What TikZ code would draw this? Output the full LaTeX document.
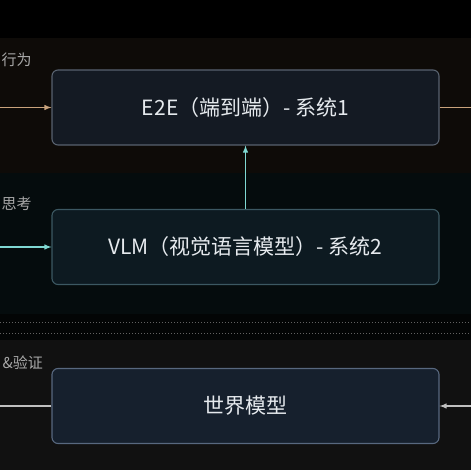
\documentclass[tikz,border=0pt]{standalone}
\usepackage{fontspec}
\setmainfont{Noto Sans CJK SC}
\usetikzlibrary{positioning}

\definecolor{bandtop}{HTML}{0E0B08}
\definecolor{bandmid}{HTML}{050C0D}
\definecolor{bandgap}{HTML}{030505}
\definecolor{bandlow}{HTML}{111111}
\definecolor{e2efill}{HTML}{141A23}
\definecolor{e2eline}{HTML}{58626F}
\definecolor{vlmfill}{HTML}{0D1A21}
\definecolor{vlmline}{HTML}{3C5862}
\definecolor{wmfill}{HTML}{16202D}
\definecolor{wmline}{HTML}{58687F}
\definecolor{boxtext}{HTML}{E6EAEE}
\definecolor{tagtext}{HTML}{A8A8A8}
\definecolor{orangeline}{HTML}{C9A37C}
\definecolor{cyanline}{HTML}{7FD8D2}
\definecolor{grayline}{HTML}{C0C0C0}

\tikzstyle{block} = [draw, rectangle, rounded corners=6pt, line width=1.1pt,
    minimum width=387pt, minimum height=75pt, text=boxtext,
    font=\fontsize{21}{24}\selectfont]
\tikzstyle{tag} = [text=tagtext, font=\fontsize{15}{18}\selectfont,
    inner sep=0pt, anchor=west]
\tikzstyle{input} = [coordinate]
\tikzstyle{output} = [coordinate]

\begin{document}
\begin{tikzpicture}[x=1pt, y=-1pt, >=latex, line width=1.4pt]
    % We start with the bands behind the blocks
    \useasboundingbox (0,0) rectangle (471,470);
    \fill [black] (0,0) rectangle (471,38);
    \fill [bandtop] (0,38) rectangle (471,173);
    \fill [bandmid] (0,173) rectangle (471,314);
    \fill [bandgap] (0,314) rectangle (471,340);
    \fill [bandlow] (0,340) rectangle (471,470);
    \draw [white!38!black, line width=1pt, dash pattern=on 1pt off 2pt] (0,322) -- (471,322);
    \draw [white!38!black, line width=1pt, dash pattern=on 1pt off 2pt] (0,333) -- (471,333);

    % Then the blocks
    \node [block, fill=e2efill, draw=e2eline] (e2e) at (245.5,107.5) {E2E（端到端）- 系统1};
    \node [block, fill=vlmfill, draw=vlmline] (vlm) at (245.5,247) {VLM（视觉语言模型）- 系统2};
    \node [block, fill=wmfill, draw=wmline] (wm) at (245.5,406) {世界模型};

    % Labels along the left edge
    \node [tag] (act) at (1,60) {行为};
    \node [tag] (think) at (1,204) {思考};
    \node [tag] (check) at (2,363) {\&验证};

    % Free ends at the picture edges
    \node [input, name=actin] at (0,107.5) {};
    \node [output, name=actout] at (471,107.5) {};
    \node [input, name=thinkin] at (0,247) {};
    \node [output, name=wmout] at (0,406) {};
    \node [input, name=wmin] at (471,406) {};

    \draw [->, orangeline] (actin) -- (e2e);
    \draw [orangeline] (e2e) -- (actout);
    \draw [->, cyanline] (thinkin) -- (vlm);
    \draw [->, cyanline] (vlm) -- (e2e);
    \draw [grayline] (wm) -- (wmout);
    \draw [->, grayline] (wmin) -- (wm);
\end{tikzpicture}
\end{document}
